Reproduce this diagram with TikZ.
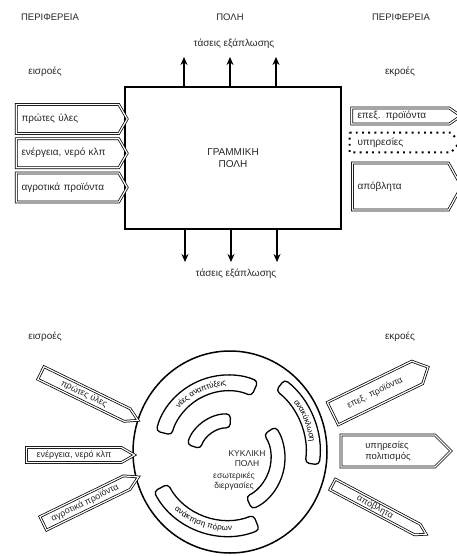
\documentclass[tikz,border=0pt]{standalone}
\usepackage{fontspec}
\setmainfont{Liberation Sans}
\usetikzlibrary{arrows.meta,positioning,calc,shapes.symbols,shapes.geometric,decorations.text}
\newcommand\arcfont{\fontsize{8}{9}\selectfont}

\tikzset{
  headtxt/.style={font=\fontsize{9.5}{11}\selectfont, text=black!85},
  smalltxt/.style={font=\fontsize{10}{12}\selectfont, text=black!85},
  flowbox/.style={draw, signal, signal to=east, double, double distance=1.2pt, line width=0.75pt,
    inner sep=1.5pt, align=left, font=\fontsize{10}{11}\selectfont, text=black!85},
  inbox/.style={flowbox, minimum width=111pt, minimum height=29pt, text width=92pt, signal pointer angle=120},
  outbox/.style={flowbox, minimum width=109pt, text width=86pt},
  pencil/.style={flowbox, align=center, inner ysep=0.5pt, font=\fontsize{9}{10}\selectfont},
  band/.style={draw, line width=1.3pt, rounded corners=4pt},
  spread/.style={-{Stealth[length=8pt,width=7pt]}, line width=1.5pt}
}

\begin{document}
\begin{tikzpicture}[x=1pt, y=1pt]
\useasboundingbox (0,0) rectangle (456,-556);

% linear city
\node[headtxt] (perL) at (50,-17) {ΠΕΡΙΦΕΡΕΙΑ};
\node[headtxt] (town) at (230,-17) {ΠΟΛΗ};
\node[headtxt] (perR) at (401,-17) {ΠΕΡΙΦΕΡΕΙΑ};
\node[smalltxt] (grow1) at (234,-44) {τάσεις εξάπλωσης};
\node[smalltxt] (inL) at (45,-72) {εισροές};
\node[smalltxt] (outR) at (400,-72) {εκροές};

\node[draw, line width=1.7pt, minimum width=216pt, minimum height=142pt, align=center,
  smalltxt] (city) at (233,-158) {ΓΡΑΜΜΙΚΗ\\ΠΟΛΗ};

\coordinate (u1) at (184,-57);
\coordinate (u2) at (230,-57);
\coordinate (u3) at (276,-57);
\coordinate (d1) at (185,-262);
\coordinate (d2) at (231,-262);
\coordinate (d3) at (277,-262);
\draw[spread] (city.north -| u1) -- (u1);
\draw[spread] (city.north -| u2) -- (u2);
\draw[spread] (city.north -| u3) -- (u3);
\draw[spread] (city.south -| d1) -- (d1);
\draw[spread] (city.south -| d2) -- (d2);
\draw[spread] (city.south -| d3) -- (d3);
\node[smalltxt] (grow2) at (236,-274) {τάσεις εξάπλωσης};

\node[inbox] (in1) at (67.5,-119) {πρώτες ύλες};
\node[inbox, below=4.5pt of in1] (in2) {ενέργεια, νερό κλπ};
\node[inbox, below=4.5pt of in2] (in3) {αγροτικά προϊόντα};

\node[outbox, minimum height=16pt, signal pointer angle=70] (out1) at (400.5,-116) {επεξ. προϊόντα};
\node[outbox, minimum height=19pt, signal pointer angle=100, double=none, draw=none] (out2) at (400.5,-142.5) {υπηρεσίες};
\draw[line width=1.9pt, dash pattern=on 1.9pt off 4.3pt] (out2.north west) -- (out2.north east)
  -- (out2.east) -- (out2.south east) -- (out2.south west) -- cycle;
\node[outbox, minimum height=47pt, signal pointer angle=122] (out3) at (400.5,-186.5) {απόβλητα};

% circular city
\node[smalltxt] (inL2) at (45,-337) {εισροές};
\node[smalltxt] (outR2) at (400,-337) {εκροές};

\node[draw, ellipse, line width=1.5pt, minimum width=194pt, minimum height=202pt] (ring) at (230,-452) {};
\coordinate (cc) at (228,-452);
\coordinate (cu) at (228,-449);
\coordinate (ci) at (229,-458);

\draw[band] ($(ci)+(88:30)$) arc[start angle=88, end angle=162, radius=30]
  -- ($(ci)+(162:44)$) arc[start angle=162, end angle=88, radius=44] -- cycle;
\draw[band] ($(ci)+(34:42)$) arc[start angle=34, end angle=-66, radius=42]
  -- ($(ci)+(-66:56)$) arc[start angle=-66, end angle=34, radius=56] -- cycle;
\draw[band] ($(cu)+(66:58)$) arc[start angle=66, end angle=166, radius=58]
  -- ($(cu)+(166:74)$) arc[start angle=166, end angle=66, radius=74] -- cycle;
\draw[band] ($(cc)+(-8:78)$) arc[start angle=-8, end angle=52, radius=78]
  -- ($(cc)+(52:92)$) arc[start angle=52, end angle=-8, radius=92] -- cycle;
\draw[band] ($(cc)+(208:68)$) arc[start angle=208, end angle=292, radius=68]
  -- ($(cc)+(292:84)$) arc[start angle=292, end angle=208, radius=84] -- cycle;

\path[decorate, decoration={text along path, text align=center, raise=-2.6pt,
  text={|\arcfont|νέες αναπτύξεις}}] ($(cu)+(166:66)$) arc[start angle=166, end angle=66, radius=66];
\path[decorate, decoration={text along path, text align=center, raise=-2.6pt,
  text={|\arcfont|ανακύκλωση}}] ($(cc)+(52:85)$) arc[start angle=52, end angle=-8, radius=85];
\path[decorate, decoration={text along path, text align=center, raise=-2.6pt,
  text={|\arcfont|ανάκτηση πόρων}}] ($(cc)+(208:76)$) arc[start angle=208, end angle=292, radius=76];

\node[align=center, font=\fontsize{8.5}{10}\selectfont, text=black!85] (kyk) at (247,-459) {ΚΥΚΛΙΚΗ\\ΠΟΛΗ};
\node[align=center, font=\fontsize{8.5}{10}\selectfont, text=black!85] (proc) at (234,-481) {εσωτερικές\\διεργασίες};

\node[pencil, rotate=-26, minimum width=108pt, minimum height=14pt, signal pointer angle=60] (bin1) at (84,-394) {πρώτες ύλες};
\node[pencil, minimum width=108pt, minimum height=15pt, signal pointer angle=60] (bin2) at (74,-455) {ενέργεια, νερό κλπ};
\node[pencil, rotate=26, minimum width=106pt, minimum height=15pt, signal pointer angle=60] (bin3) at (85,-503) {αγροτικά προϊόντα};

\node[pencil, rotate=26, minimum width=106pt, minimum height=25pt, signal pointer angle=92] (bout1) at (375,-393) {επεξ. προϊόντα};
\node[pencil, align=left, minimum width=110pt, minimum height=32pt, signal pointer angle=90,
  font=\fontsize{9.5}{11}\selectfont] (bout2) at (388,-451) {υπηρεσίες\\πολιτισμός};
\node[pencil, rotate=-28, minimum width=106pt, minimum height=12pt, signal pointer angle=62] (bout3) at (375,-507) {απόβλητα};
\end{tikzpicture}
\end{document}
